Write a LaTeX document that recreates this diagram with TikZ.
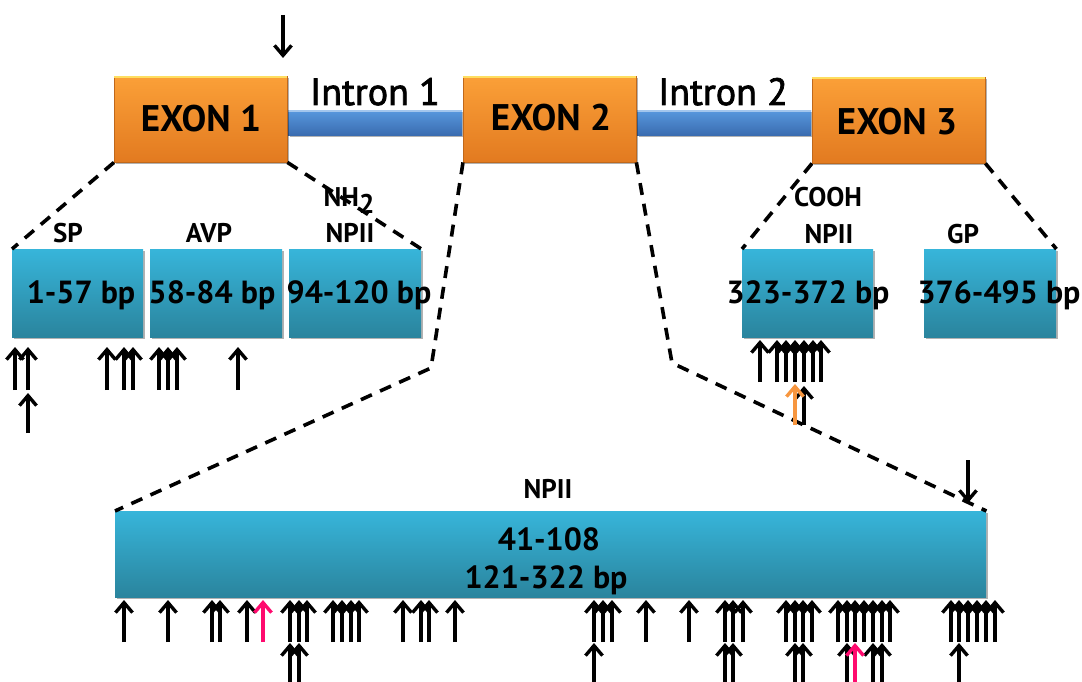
\documentclass[tikz,border=0pt]{standalone}
\usepackage{fontspec}
\setmainfont{PT Sans}
\newfontfamily\intronfont[FakeBold=2]{PT Sans}
\usetikzlibrary{arrows.meta,shadows}
\definecolor{exonTop}{HTML}{FBA038}
\definecolor{exonBot}{HTML}{E27A20}
\definecolor{segTop}{HTML}{37B5DA}
\definecolor{segBot}{HTML}{2A849D}
\definecolor{intTop}{HTML}{5898DE}
\definecolor{intBot}{HTML}{3A6CB0}
\definecolor{pinkmark}{HTML}{FF0A6E}
\definecolor{orangemark}{HTML}{F7963F}
\begin{document}
\begin{tikzpicture}[x=1pt,y=-1pt,
  shadowed/.style={drop shadow={shadow xshift=1.5pt,shadow yshift=-2pt,opacity=0.3,fill=black}},
  exon/.style={rectangle,inner sep=0pt,anchor=north west,shadowed,
    top color=exonTop,bottom color=exonBot,draw=exonBot!85!black,line width=0.4pt,
    minimum width=173pt,minimum height=86pt},
  intron/.style={rectangle,inner sep=0pt,anchor=north west,shadowed,
    top color=intTop,bottom color=intBot,minimum width=174pt,minimum height=25pt},
  seg/.style={rectangle,inner sep=0pt,anchor=north west,shadowed,
    top color=segTop,bottom color=segBot,minimum height=88pt},
  exontext/.style={anchor=base,font=\bfseries\fontsize{37}{40}\selectfont},
  introntext/.style={anchor=base,font=\intronfont\fontsize{38}{42}\selectfont},
  segtext/.style={anchor=base,font=\bfseries\fontsize{32}{36}\selectfont},
  tagtext/.style={anchor=base,font=\bfseries\fontsize{27}{30}\selectfont},
  zoomline/.style={line width=3.6pt,dash pattern=on 12pt off 9pt},
  uparrow/.style={line width=3.4pt,-{Straight Barb[length=10pt,width=17pt]}},
  downarrow/.style={line width=3.4pt,-{Straight Barb[length=10pt,width=17pt]}}
]
\useasboundingbox (0,0) rectangle (1082,682);

% ---- gene: introns behind exons
\node[intron] (in1) at (288,110) {};
\node[intron] (in2) at (637,110) {};
\draw[intTop!55!white,line width=1.5pt] ([yshift=-1pt]in1.north west) -- ([yshift=-1pt]in1.north east);
\draw[intTop!55!white,line width=1.5pt] ([yshift=-1pt]in2.north west) -- ([yshift=-1pt]in2.north east);

\node[exon] (ex1) at (114,76) {};
\node[exon] (ex2) at (463,76) {};
\node[exon] (ex3) at (812,77) {};
\foreach \e in {ex1,ex2,ex3}
  \draw[exonTop!50!yellow!70!white,line width=1.5pt] ([yshift=-1.2pt]\e.north west) -- ([yshift=-1.2pt]\e.north east);

\node[exontext] (t1) at (201,132) {EXON 1};
\node[exontext] (t2) at (551,131) {EXON 2};
\node[exontext] (t3) at (897,135) {EXON 3};
\node[introntext] (ti1) at (375,105) {Intron 1};
\node[introntext] (ti2) at (723,105) {Intron 2};

% ---- expanded segments
\node[seg,minimum width=131pt] (s1) at (12,249) {};
\node[seg,minimum width=132pt] (s2) at (150,249) {};
\node[seg,minimum width=132pt] (s3) at (289,249) {};
\node[seg,minimum width=131pt] (s4) at (742,249) {};
\node[seg,minimum width=132pt] (s5) at (924,249) {};
\node[seg,minimum width=871pt,minimum height=86pt] (big) at (115,511) {};

\node[segtext] (l1) at (81,303) {1-57 bp};
\node[segtext] (l2) at (212,303) {58-84 bp};
\node[segtext] (l3) at (359,303) {94-120 bp};
\node[segtext] (l4) at (808,303) {323-372 bp};
\node[segtext] (l5) at (999,303) {376-495 bp};
\node[segtext] (lb1) at (549,550) {41-108};
\node[segtext] (lb2) at (546,588) {121-322 bp};

\node[tagtext] (sp) at (68,242) {SP};
\node[tagtext] (avp) at (209,242) {AVP};
\node[tagtext] (np1) at (350,242) {NPII};
\node[tagtext] (nh) at (349,207) {NH\raisebox{-6pt}{2}};
\node[tagtext] (cooh) at (828,207) {COOH};
\node[tagtext] (np3) at (829,243) {NPII};
\node[tagtext] (gp) at (963,243) {GP};
\node[tagtext] (np2) at (548,498) {NPII};

% ---- zoom guides
\coordinate (k1) at (431,368);
\coordinate (k2) at (672,363);
\draw[zoomline] (ex1.south west) -- (s1.north west);
\draw[zoomline] (ex1.south east) -- (s3.north east);
\draw[zoomline] (ex2.south west) -- (k1) -- (big.north west);
\draw[zoomline] (ex2.south east) -- (k2) -- (big.north east);
\draw[zoomline] (ex3.south west) -- (s4.north west);
\draw[zoomline] (ex3.south east) -- (s5.north east);

% ---- markers
\coordinate (top) at (283,15);
\coordinate (topend) at (283,58);
\draw[downarrow] (top) -- (topend);
\coordinate (bigmark) at (968,460);
\coordinate (bigmarkend) at (968,503);
\draw[downarrow] (bigmark) -- (bigmarkend);

% under exon 1 segments
\foreach \x in {15,28,107,124,133,159,168,177,238}
  \draw[uparrow] (\x,390) -- (\x,347);
\draw[uparrow] (28,433) -- (28,393);

% under exon 3 segment
\foreach \x in {760,777,786,795,804,813,821}
  \draw[uparrow] (\x,382) -- (\x,340);
\draw[uparrow] (804,425) -- (804,386);
\draw[uparrow,orangemark] (795,425) -- (795,384);

% under exon 2 segment
\foreach \x in {124,168,212,220,247,290,299,307,333,342,351,359,403,421,429,455,
                594,603,612,646,689,725,733,743,786,795,803,812,
                838,847,855,864,873,882,890,951,959,968,977,986,995}
  \draw[uparrow] (\x,642) -- (\x,600);
\draw[uparrow,pinkmark] (263,642) -- (263,600);
\foreach \x in {290,299,594,725,733,795,803,847,873,882,959}
  \draw[uparrow] (\x,682) -- (\x,643);
\draw[uparrow,pinkmark] (855,682) -- (855,643);
\end{tikzpicture}
\end{document}
